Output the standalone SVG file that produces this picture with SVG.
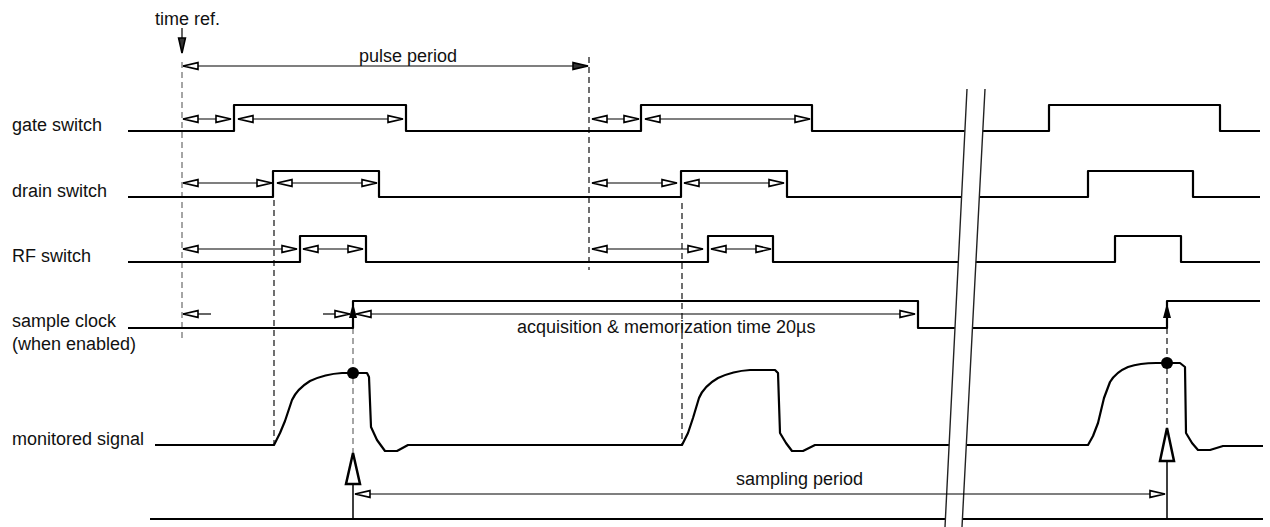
<svg xmlns="http://www.w3.org/2000/svg" width="1270" height="527" viewBox="0 0 1270 527">
<defs>
<style>
.lbl{font-family:"Liberation Sans",Arial,sans-serif;font-size:18px;fill:#111}
.sig{fill:none;stroke:#000;stroke-width:2.2;stroke-linejoin:round}
.dim{fill:none;stroke:#000;stroke-width:1.2}
.dg{fill:none;stroke:#888;stroke-width:1.5;stroke-dasharray:6 4}
.dk{fill:none;stroke:#222;stroke-width:1.3;stroke-dasharray:6 4}
.brk{fill:none;stroke:#222;stroke-width:1.4}
</style>
<marker id="a" viewBox="-1 -1 18 10" refX="15" refY="4" markerWidth="18" markerHeight="10" markerUnits="userSpaceOnUse" orient="auto-start-reverse">
<path d="M0,0.6 L15,4 L0,7.4 Z" fill="#fff" stroke="#000" stroke-width="1.6" stroke-linejoin="miter"/>
</marker>
<marker id="af" viewBox="-1 -1 18 10" refX="15" refY="4" markerWidth="18" markerHeight="10" markerUnits="userSpaceOnUse" orient="auto-start-reverse">
<path d="M0,0.6 L15,4 L0,7.4 Z" fill="#333" stroke="#000" stroke-width="1.6" stroke-linejoin="miter"/>
</marker>
</defs>
<rect width="1270" height="527" fill="#fff"/>

<g id="labels">
<text class="lbl" x="155" y="25">time ref.</text>
<text class="lbl" x="12" y="131">gate switch</text>
<text class="lbl" x="12" y="197">drain switch</text>
<text class="lbl" x="12" y="262">RF switch</text>
<text class="lbl" x="12" y="327">sample clock</text>
<text class="lbl" x="12" y="350">(when enabled)</text>
<text class="lbl" x="12" y="445">monitored signal</text>
</g>

<g id="connectors">
<path class="dg" d="M182,62 V342"/>
<path class="dk" d="M589,57 V270"/>
<path class="dk" d="M274,200 V445"/>
<path class="dk" d="M682,203 V445"/>
<path class="dg" d="M353,318 V453"/>
<path class="dk" d="M1167,318 V428"/>
<path class="dim" d="M182,28 V53" marker-end="url(#af)"/>
<path class="dim" d="M183,66 H588" marker-start="url(#a)" marker-end="url(#af)"/>
<path class="dim" d="M183,119 H231" marker-start="url(#a)" marker-end="url(#a)"/>
<path class="dim" d="M238,119 H403" marker-start="url(#a)" marker-end="url(#a)"/>
<path class="dim" d="M592,119 H639" marker-start="url(#a)" marker-end="url(#a)"/>
<path class="dim" d="M645,119 H810" marker-start="url(#a)" marker-end="url(#a)"/>
<path class="dim" d="M183,183 H272" marker-start="url(#a)" marker-end="url(#a)"/>
<path class="dim" d="M277,183 H377" marker-start="url(#a)" marker-end="url(#a)"/>
<path class="dim" d="M592,183 H677" marker-start="url(#a)" marker-end="url(#a)"/>
<path class="dim" d="M684,183 H784" marker-start="url(#a)" marker-end="url(#a)"/>
<path class="dim" d="M183,249 H297" marker-start="url(#a)" marker-end="url(#a)"/>
<path class="dim" d="M303,249 H363" marker-start="url(#a)" marker-end="url(#a)"/>
<path class="dim" d="M592,249 H703" marker-start="url(#a)" marker-end="url(#a)"/>
<path class="dim" d="M711,249 H771" marker-start="url(#a)" marker-end="url(#a)"/>
<path class="dim" d="M183,314 H211" marker-start="url(#a)"/>
<path class="dim" d="M323,314 H350" marker-end="url(#a)"/>
<path class="dim" d="M356,314 H915" marker-start="url(#a)" marker-end="url(#a)"/>
<polygon points="353,303 349,318 357,318" fill="#000"/>
<polygon points="1167,303 1163,318 1171,318" fill="#000"/>
<path d="M353,484 V519 M1167,461 V519" stroke="#000" stroke-width="1.5" fill="none"/>
<polygon points="353,453 346,484 360,484" fill="#fff" stroke="#000" stroke-width="2.5" stroke-linejoin="miter"/>
<polygon points="1167,428 1160,461 1174,461" fill="#fff" stroke="#000" stroke-width="2.5" stroke-linejoin="miter"/>
</g>

<g id="gate-switch">
<path class="sig" d="M128,131 H234 V105 H406 V131 H641 V105 H812 V131 H1049 V105 H1220 V131 H1260"/>
</g>
<g id="drain-switch">
<path class="sig" d="M128,197 H273 V171 H379 V197 H681 V171 H787 V197 H1088 V171 H1193 V197 H1260"/>
</g>
<g id="rf-switch">
<path class="sig" d="M128,262 H300 V236 H366 V262 H708 V236 H773 V262 H1115 V236 H1181 V262 H1260"/>
</g>
<g id="sample-clock">
<path class="sig" d="M128,328 H353 V301 H918 V328 H1167 V301 H1260"/>
</g>
<g id="monitored-signal">
<path class="sig" d="M155,445 H274 L280,433 L285,421 L292,400 Q297,389 310,381 Q325,374 342,373 L367,373 L369,377 L371,427 L377,440 L385,451 L397,451 L408,445 H682 L688,433 L693,418 L699,398 Q704,386 718,378 Q733,371 750,370 L775,370 L778,373 L780,433 L786,443 L792,451 L803,451 L815,445 H1088 L1093,436 L1098,423 L1104,398 L1110,382 Q1116,372 1128,367 Q1140,363 1156,363 L1180,363 L1185,367 L1186,433 L1192,443 L1198,450 L1210,450 L1223,446 H1263"/>
<circle cx="353" cy="373" r="6" fill="#000"/>
<circle cx="1167" cy="363" r="6" fill="#000"/>
</g>
<g id="timeline">
<path class="sig" d="M150,519 H1263"/>
</g>

<g id="break">
<polygon points="967,86 985,86 962,527 945,527" fill="#fff"/>
<path class="brk" d="M967,89 L945,527 M985,89 L962,527"/>
</g>

<g id="sampling-period">
<path class="dim" d="M355,494 H1165" marker-start="url(#a)" marker-end="url(#a)"/>
<text class="lbl" x="736" y="485">sampling period</text>
</g>
<g id="dim-labels">
<text class="lbl" x="359" y="62">pulse period</text>
<text class="lbl" x="517" y="333">acquisition &amp; memorization time 20µs</text>
</g>
</svg>
